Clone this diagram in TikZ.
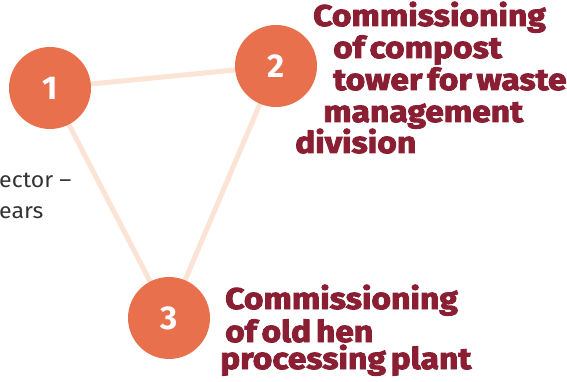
\documentclass[tikz,border=0pt]{standalone}
\usepackage{fontspec}
\setmainfont{Fira Sans}
\newfontfamily\heavyfont{Fira Sans}[BoldFeatures={FakeBold=3,FakeStretch=1.12,WordSpace=0.6}]
\newfontfamily\lightfont{Fira Sans}[FakeStretch=1.05]
\newfontfamily\numfont{Fira Sans}
\definecolor{circ}{HTML}{E9704D}
\definecolor{link}{HTML}{FBE3D6}
\definecolor{wine}{HTML}{8A1F33}
\definecolor{body}{HTML}{333333}
\begin{document}
\begin{tikzpicture}[x=1pt,y=-1pt,
  numcirc/.style={circle,fill=circ,minimum size=82pt,inner sep=0pt,text=white,font=\numfont\bfseries\fontsize{33}{33}\selectfont},
  linkline/.style={draw=link,line width=5pt},
  title/.style={anchor=base west,inner sep=0pt,text=wine,font=\heavyfont\bfseries\fontsize{30}{30}\selectfont},
  side/.style={anchor=base west,inner sep=0pt,text=body,font=\lightfont\fontsize{22}{22}\selectfont}]
\clip (0,0) rectangle (567,382);
\coordinate (c1) at (50,88);
\coordinate (c2) at (276,66);
\coordinate (c3) at (169,318);
\draw[linkline] (c1) -- (c2);
\draw[linkline] (c1) -- (c3);
\draw[linkline] (c2) -- (c3);
\node[numcirc] (n1) at (c1) {1};
\node[numcirc] (n2) at (c2) {2};
\node[numcirc] (n3) at (c3) {3};
\node[title] (a1) at (313,26) {Commissioning};
\node[title] (a2) at (333,58) {of compost};
\node[title] (a3) at (333,90) {tower for waste};
\node[title] (a4) at (323,122) {management};
\node[title] (a5) at (295,153) {division};
\node[title] (b1) at (225,309) {Commissioning};
\node[title] (b2) at (225,342) {of old hen};
\node[title] (b3) at (220,369) {processing plant};
\node[side] (s1) at (-1,187) {ector –};
\node[side] (s2) at (-1,218) {ears};
\end{tikzpicture}
\end{document}
